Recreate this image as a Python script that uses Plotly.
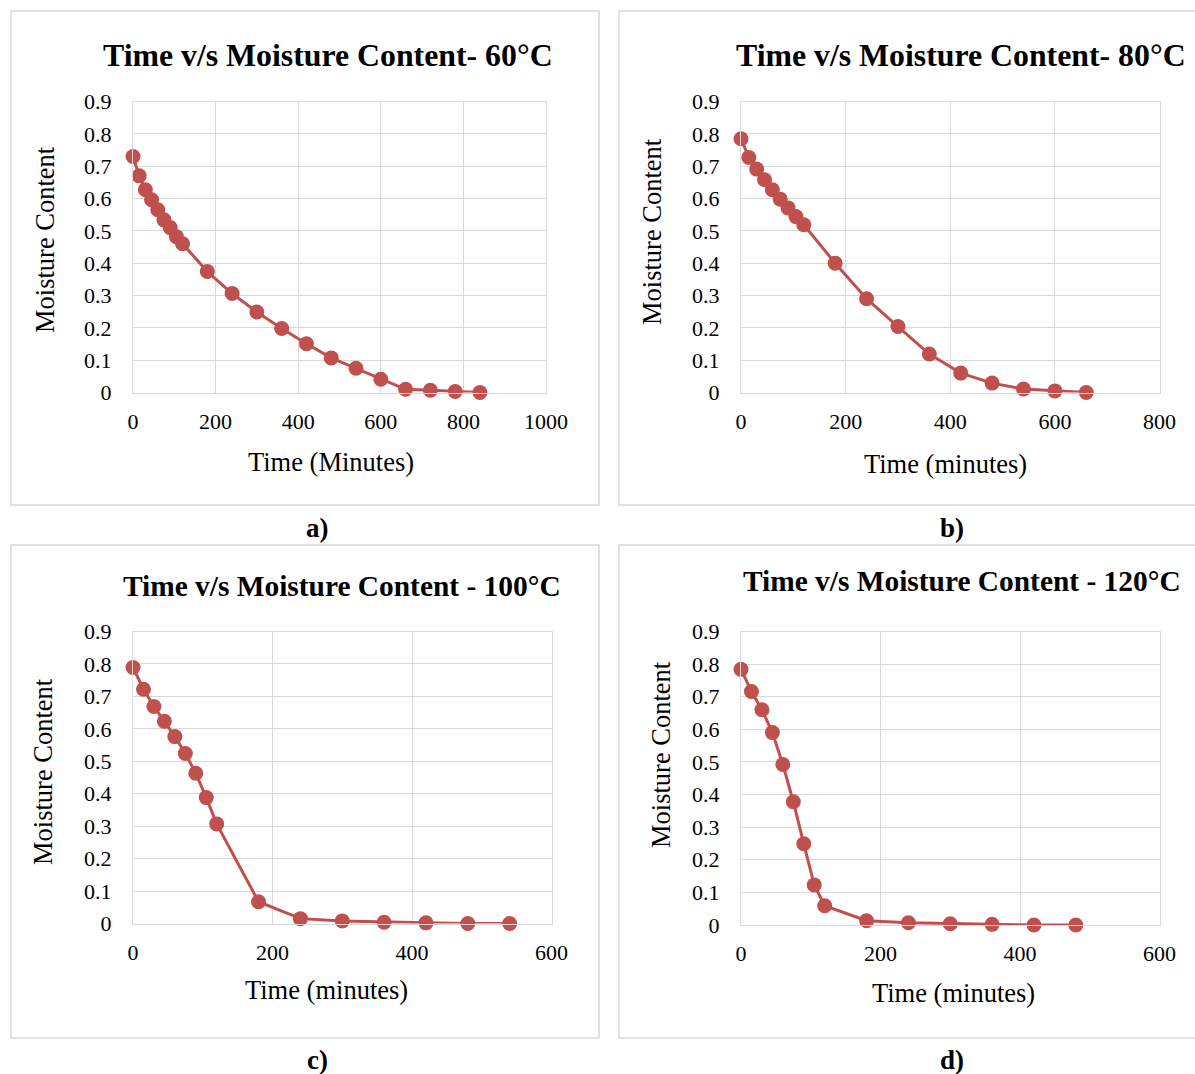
import plotly.graph_objects as go

W, H = 1195, 1074

# ---- data ----
time_60 = [0, 15, 30, 45, 60, 75, 90, 105, 120, 180, 240, 300, 360, 420, 480, 540, 600, 660, 720, 780, 840]
mc_60 = [0.730, 0.670, 0.627, 0.596, 0.565, 0.534, 0.510, 0.482, 0.460, 0.374, 0.306, 0.249, 0.198,
         0.151, 0.107, 0.075, 0.041, 0.010, 0.007, 0.003, 0.000]

time_80 = [0, 15, 30, 45, 60, 75, 90, 105, 120, 180, 240, 300, 360, 420, 480, 540, 600, 660]
mc_80 = [0.785, 0.727, 0.691, 0.658, 0.627, 0.598, 0.571, 0.544, 0.519, 0.400, 0.290, 0.204,
         0.119, 0.060, 0.029, 0.011, 0.005, 0.000]

time_100 = [0, 15, 30, 45, 60, 75, 90, 105, 120, 180, 240, 300, 360, 420, 480, 540]
mc_100 = [0.789, 0.722, 0.669, 0.623, 0.576, 0.524, 0.463, 0.388, 0.307, 0.067, 0.015, 0.008,
          0.004, 0.002, 0.000, 0.000]

time_120 = [0, 15, 30, 45, 60, 75, 90, 105, 120, 180, 240, 300, 360, 420, 480]
mc_120 = [0.784, 0.716, 0.660, 0.590, 0.492, 0.378, 0.249, 0.123, 0.059, 0.013, 0.007, 0.004,
          0.002, 0.000, 0.000]

titles = ["Time v/s Moisture Content- 60°C", "Time v/s Moisture Content- 80°C",
          "Time v/s Moisture Content - 100°C", "Time v/s Moisture Content - 120°C"]
x_titles = ["Time (Minutes)", "Time (minutes)", "Time (minutes)", "Time (minutes)"]
y_title = "Moisture Content"
panel_labels = ["a)", "b)", "c)", "d)"]
x_maxes = [1000, 800, 600, 600]
y_ticks = [0, 0.1, 0.2, 0.3, 0.4, 0.5, 0.6, 0.7, 0.8, 0.9]
y_ticktext = ["0", "0.1", "0.2", "0.3", "0.4", "0.5", "0.6", "0.7", "0.8", "0.9"]

series = [(time_60, mc_60), (time_80, mc_80), (time_100, mc_100), (time_120, mc_120)]

# ---- layout geometry (pixels) ----
FONT = "Liberation Serif"
RED = "#C0504D"
GRID = "#D9D9D9"

def px(x):
    return x / W

def py(y):
    return 1 - y / H

plot_boxes = [  # left, right, top, bottom
    (133, 546, 101.5, 392.5),
    (741, 1159.5, 101.5, 392.5),
    (133, 551.5, 631.5, 923.5),
    (741, 1159.5, 631.5, 925),
]
panel_boxes = [(11, 599, 11, 505), (619, 1210, 11, 505), (11, 599, 545, 1038), (619, 1210, 545, 1038)]
title_pos = [(328, 56, 31.8), (961, 56, 31.8), (342, 586, 29.4), (962, 581, 29.4)]
ytitle_pos = [(45, 240), (652, 232), (43, 772), (661, 755)]
xtitle_pos = [(331, 462), (945, 464), (326, 990), (953, 993)]
label_pos = [(317, 528), (952, 528), (317, 1060), (952, 1060)]

fig = go.Figure()
shapes = []
annotations = []

for i, ((t, m), (l, r, tp, b)) in enumerate(zip(series, plot_boxes)):
    suffix = "" if i == 0 else str(i + 1)
    fig.add_trace(go.Scatter(
        x=t, y=m, mode="lines+markers",
        line=dict(color=RED, width=3),
        marker=dict(color=RED, size=15),
        cliponaxis=False, showlegend=False,
        xaxis="x" + suffix, yaxis="y" + suffix,
    ))
    common = dict(showgrid=True, gridcolor=GRID, gridwidth=1, zeroline=False,
                  showline=True, linecolor=GRID, linewidth=1, mirror=True,
                  automargin=False,
                  ticks="", tickfont=dict(family=FONT, size=22, color="#000"))
    fig.layout["xaxis" + suffix] = dict(
        domain=[px(l), px(r)], range=[0, x_maxes[i]], dtick=200, tick0=0,
        anchor="y" + suffix, ticklabelstandoff=9, **common)
    fig.layout["yaxis" + suffix] = dict(
        domain=[py(b), py(tp)], range=[0, 0.9], tickvals=y_ticks, ticktext=y_ticktext,
        anchor="x" + suffix, ticklabelstandoff=16, **common)

    bl, br, bt, bb = panel_boxes[i]
    shapes.append(dict(type="rect", xref="paper", yref="paper",
                       x0=px(bl), x1=px(br), y0=py(bb), y1=py(bt),
                       line=dict(color=GRID, width=1.5), layer="below"))

    tx, ty, ts = title_pos[i]
    annotations.append(dict(text="<b>" + titles[i] + "</b>", x=px(tx), y=py(ty),
                            xref="paper", yref="paper", showarrow=False,
                            xanchor="center", yanchor="middle",
                            font=dict(family=FONT, size=ts, color="#000")))
    yx, yy = ytitle_pos[i]
    annotations.append(dict(text=y_title, x=px(yx), y=py(yy), textangle=-90,
                            xref="paper", yref="paper", showarrow=False,
                            xanchor="center", yanchor="middle",
                            font=dict(family=FONT, size=26.5, color="#000")))
    xx, xy = xtitle_pos[i]
    annotations.append(dict(text=x_titles[i], x=px(xx), y=py(xy),
                            xref="paper", yref="paper", showarrow=False,
                            xanchor="center", yanchor="middle",
                            font=dict(family=FONT, size=26.5, color="#000")))
    lx, ly = label_pos[i]
    annotations.append(dict(text="<b>" + panel_labels[i] + "</b>", x=px(lx), y=py(ly),
                            xref="paper", yref="paper", showarrow=False,
                            xanchor="center", yanchor="middle",
                            font=dict(family=FONT, size=27, color="#000")))

fig.update_layout(
    template="none",
    width=W, height=H, margin=dict(l=0, r=0, t=0, b=0, pad=0),
    paper_bgcolor="white", plot_bgcolor="white",
    shapes=shapes, annotations=annotations,
)

fig.write_html(
    "out.html",
    config={"displayModeBar": False},
    post_script="document.body.style.margin='0px';document.body.style.padding='0px';"
                "document.body.style.overflow='hidden';",
)
